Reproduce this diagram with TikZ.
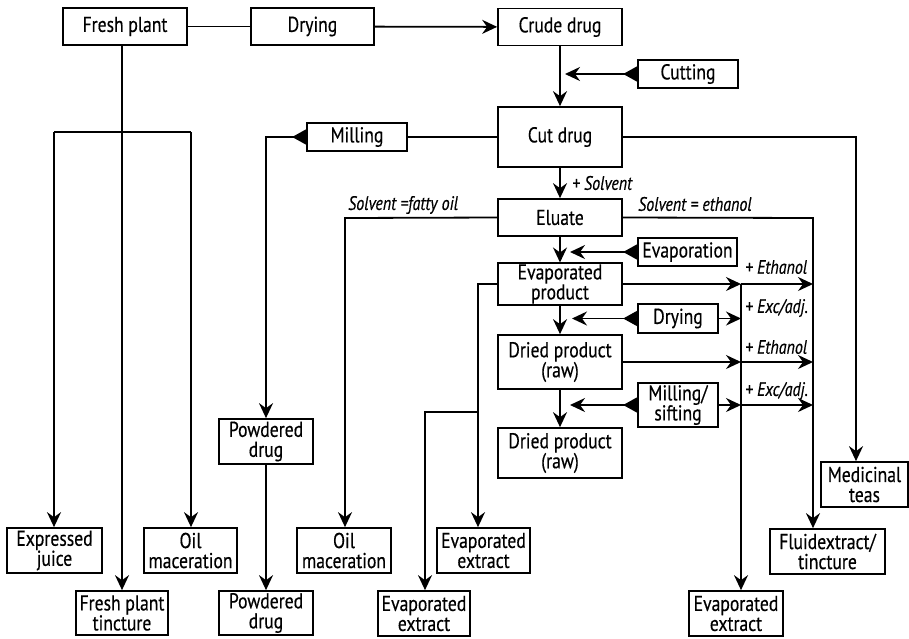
\documentclass[tikz,border=0pt]{standalone}
\usepackage{fontspec}
\setmainfont{PT Sans}[FakeStretch=0.82,FakeBold=0.4]
\usetikzlibrary{arrows.meta}
\newcommand\boxfont{\fontsize{21.5}{20}\selectfont}
\newcommand\labfont{\fontsize{19.5}{19}\selectfont\itshape}
\tikzset{
  box/.style={draw, line width=1.7pt, align=center, inner sep=1pt, font=\boxfont},
  ln/.style={line width=1.8pt},
  arr/.style={ln, -{Stealth[length=15pt,width=14pt,inset=5pt]}},
  src/.style={ln, {Triangle[reversed,length=14pt,width=15pt]}-{Stealth[length=15pt,width=14pt,inset=5pt]}},
  lab/.style={font=\labfont, inner sep=0pt, anchor=west},
}
\begin{document}
\begin{tikzpicture}[x=1pt,y=-1pt]
\useasboundingbox (0,0) rectangle (909,638);
% boxes
\node[box, minimum width=124pt, minimum height=37pt] (fresh) at (125,26.5) {Fresh plant};
\node[box, minimum width=123pt, minimum height=37pt] (drying1) at (312.5,26.5) {Drying};
\node[box, minimum width=124pt, minimum height=37pt] (crude) at (560,27) {Crude drug};
\node[box, minimum width=100pt, minimum height=28pt] (cutting) at (688,74) {Cutting};
\node[box, minimum width=100pt, minimum height=28pt] (milling) at (357,137) {Milling};
\node[box, minimum width=124pt, minimum height=60pt] (cutdrug) at (560,137) {Cut drug};
\node[box, minimum width=124pt, minimum height=37pt] (eluate) at (560,217.5) {Eluate};
\node[box, minimum width=99pt, minimum height=28pt] (evaporation) at (687.5,252) {Evaporation};
\node[box, minimum width=124pt, minimum height=38pt] (evapprod) at (560,284) {Evaporated\\product};
\node[box, minimum width=80pt, minimum height=29pt] (drying2) at (678,318.5) {Drying};
\node[box, minimum width=124pt, minimum height=54pt] (driedprod) at (560,362) {Dried product\\(raw)};
\node[box, minimum width=80pt, minimum height=44pt] (millsift) at (678,405) {Milling/\\sifting};
\node[box, minimum width=124pt, minimum height=50pt] (driedprod2) at (560,453) {Dried product\\(raw)};
\node[box, minimum width=94pt, minimum height=45pt] (powdered1) at (266,441.5) {Powdered\\drug};
\node[box, minimum width=94pt, minimum height=44pt] (powdered2) at (266,613) {Powdered\\drug};
\node[box, minimum width=95pt, minimum height=45pt] (expjuice) at (54.5,550.5) {Expressed\\juice};
\node[box, minimum width=93pt, minimum height=45pt] (oilmac1) at (190.5,550.5) {Oil\\maceration};
\node[box, minimum width=92pt, minimum height=44pt] (fptinct) at (122,613) {Fresh plant\\tincture};
\node[box, minimum width=94pt, minimum height=45pt] (oilmac2) at (344,550.5) {Oil\\maceration};
\node[box, minimum width=93pt, minimum height=45pt] (evapext1) at (483.5,550.5) {Evaporated\\extract};
\node[box, minimum width=92pt, minimum height=45pt] (evapext2) at (424,613.5) {Evaporated\\extract};
\node[box, minimum width=94pt, minimum height=45pt] (evapext3) at (736,613.5) {Evaporated\\extract};
\node[box, minimum width=115pt, minimum height=45pt] (fluid) at (827.5,551.5) {Fluidextract/\\tincture};
\node[box, minimum width=87pt, minimum height=45pt] (medteas) at (864.5,484.5) {Medicinal\\teas};
% labels
\node[lab] (lsolv) at (572,183) {+ Solvent};
\node[lab] (lfat) at (348,205) {Solvent =fatty oil};
\node[lab] (leth) at (638,204) {Solvent = ethanol};
\node[lab] (le1) at (745,267) {+ Ethanol};
\node[lab] (lx1) at (745,308) {+ Exc/adj.};
\node[lab] (le2) at (745,347) {+ Ethanol};
\node[lab] (lx2) at (745,391) {+ Exc/adj.};
% coordinates
\coordinate (bL) at (54,132);
\coordinate (bR) at (191,132);
\coordinate (mC) at (266,137);
\coordinate (oC) at (345,218);
\coordinate (tC) at (856,137);
\coordinate (eC) at (813,218);
\coordinate (vA) at (741,284);
\coordinate (vE) at (813,284);
\coordinate (lC) at (478,284);
\coordinate (lJ) at (478,412);
\coordinate (lL) at (425,412);
\coordinate (cutEnd) at (565,74);
\coordinate (evEnd) at (570,252);
\coordinate (drEnd) at (572,318.5);
\coordinate (msEnd) at (570,405);
% connectors
\draw[ln] (fresh) -- (drying1);
\draw[arr] (drying1) -- (crude);
\draw[arr] (crude) -- (cutdrug);
\draw[src] (cutting.west) -- (cutEnd);
\draw[arr] (fptinct.north |- fresh.south) -- (fptinct.north);
\draw[ln] (bL) -- (bR);
\draw[arr] (bL) -- (bL |- expjuice.north);
\draw[arr] (bR) -- (bR |- oilmac1.north);
\draw[ln] (cutdrug.west) -- (milling.east);
\draw[src] (milling.west) -- (mC) -- (powdered1.north);
\draw[arr] (powdered1) -- (powdered2);
\draw[arr] (eluate.west) -- (oC) -- (oC |- oilmac2.north);
\draw[arr] (cutdrug) -- (eluate);
\draw[arr] (cutdrug.east) -- (tC) -- (tC |- medteas.north);
\draw[arr] (eluate.east) -- (eC) -- (eC |- fluid.north);
\draw[arr] (eluate) -- (evapprod);
\draw[src] (evaporation.west) -- (evEnd);
\draw[arr] (evapprod.east) -- (vA);
\draw[arr] (vA) -- (vE);
\draw[arr] (vA) -- (vA |- evapext3.north);
\draw[arr] (evapprod.west) -- (lC) -- (lC |- evapext1.north);
\draw[arr] (lJ) -- (lL) -- (lL |- evapext2.north);
\draw[arr] (evapprod) -- (driedprod);
\draw[src] (drying2.west) -- (drEnd);
\draw[arr] (drying2.east) -- (drying2.east -| vA);
\draw[arr] (driedprod.east) -- (driedprod.east -| vA);
\draw[arr] (driedprod.east -| vA) -- (driedprod.east -| vE);
\draw[arr] (driedprod) -- (driedprod2);
\draw[src] (millsift.west) -- (msEnd);
\draw[arr] (millsift.east) -- (millsift.east -| vA);
\draw[arr] (millsift.east -| vA) -- (millsift.east -| vE);
\end{tikzpicture}
\end{document}
